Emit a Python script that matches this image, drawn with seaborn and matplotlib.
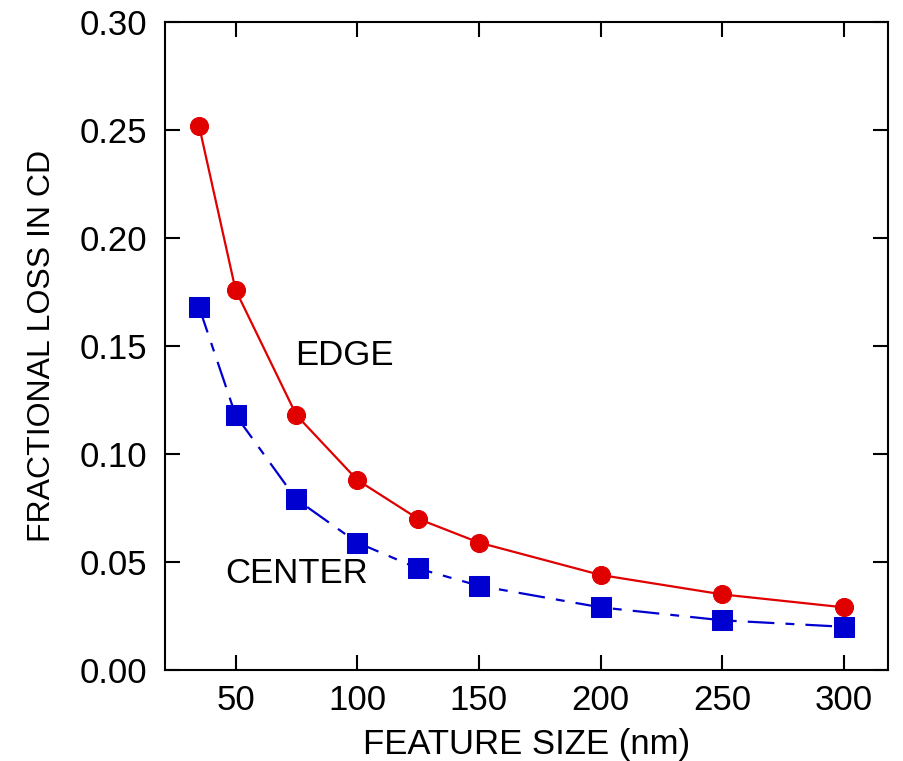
import pandas as pd
import matplotlib.pyplot as plt
import seaborn as sns

feature_size = [35, 50, 75, 100, 125, 150, 200, 250, 300]
edge_loss = [0.252, 0.176, 0.118, 0.088, 0.070, 0.059, 0.044, 0.035, 0.029]
center_loss = [0.168, 0.118, 0.079, 0.059, 0.047, 0.039, 0.029, 0.023, 0.020]

x_ticks = [50, 100, 150, 200, 250, 300]
y_ticks = [0.00, 0.05, 0.10, 0.15, 0.20, 0.25, 0.30]

sns.set_style("ticks")
plt.rcParams["font.family"] = ["Liberation Sans", "DejaVu Sans"]
plt.rcParams["text.color"] = "black"
plt.rcParams["axes.labelcolor"] = "black"
plt.rcParams["xtick.color"] = "black"
plt.rcParams["ytick.color"] = "black"

df = pd.DataFrame({"size": feature_size, "edge": edge_loss, "center": center_loss})

fig = plt.figure(figsize=(9.04, 7.61), dpi=100)
ax = fig.add_axes([0.1825, 0.1196, 0.7995, 0.8514])

sns.lineplot(data=df, x="size", y="edge", ax=ax, color="#e00000",
             marker="o", markersize=13, markeredgecolor="#e00000",
             linewidth=1.6)
sns.lineplot(data=df, x="size", y="center", ax=ax, color="#0000d0",
             marker="s", markersize=14, markeredgecolor="#0000d0",
             linewidth=1.6, linestyle=(0, (12, 5, 4, 5)))

ax.text(74.5, 0.1455, "EDGE", fontsize=25, va="center", ha="left")
ax.text(45.8, 0.0447, "CENTER", fontsize=25, va="center", ha="left")

ax.set_xlim(21, 318)
ax.set_ylim(0, 0.30)
ax.set_xticks(x_ticks)
ax.set_yticks(y_ticks)
ax.set_yticklabels([f"{v:.2f}" for v in y_ticks])
ax.set_xlabel("FEATURE SIZE (nm)", fontsize=25, labelpad=8)
ax.set_ylabel("FRACTIONAL LOSS IN CD", fontsize=23, labelpad=16)
ax.tick_params(direction="in", length=11, width=1.5, labelsize=25,
               top=True, right=True)
ax.tick_params(axis="y", pad=13)
ax.tick_params(axis="x", pad=10)
for s in ax.spines.values():
    s.set_linewidth(1.5)
    s.set_color("black")

fig.savefig("out.png", dpi=100)
